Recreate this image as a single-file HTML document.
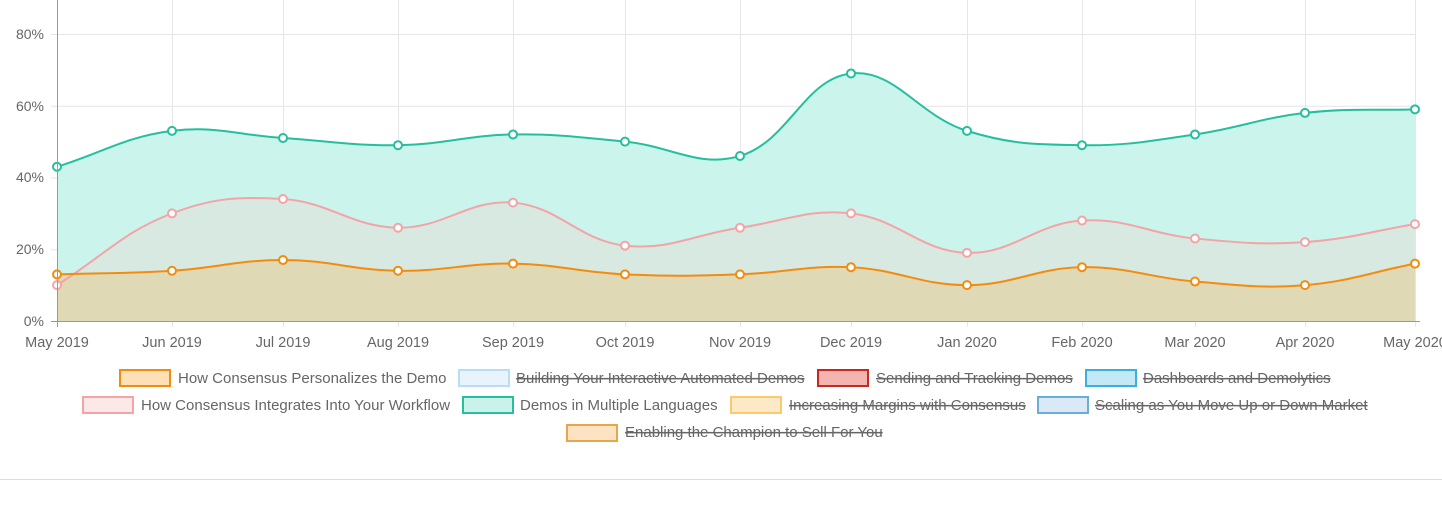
<!DOCTYPE html>
<html><head><meta charset="utf-8"><style>
body{margin:0;background:#fff;width:1442px;height:511px;overflow:hidden;font-family:"Liberation Sans",sans-serif}
svg{position:absolute;left:0;top:0}
</style></head><body>
<svg width="1442" height="511" viewBox="0 0 1442 511" xmlns="http://www.w3.org/2000/svg">
<g id="grid" stroke="#e6e6e6" stroke-width="1"></g>
<g id="areas"></g>
<g id="lines"></g>
<line x1="57.5" y1="0" x2="57.5" y2="327" stroke="#999" stroke-width="1"/>
<line x1="51" y1="321.5" x2="1420" y2="321.5" stroke="#999" stroke-width="1"/>
<g font-size="14" fill="#666" text-anchor="end">
<text x="44" y="39">80%</text><text x="44" y="111">60%</text><text x="44" y="182">40%</text><text x="44" y="254">20%</text><text x="44" y="326">0%</text>
</g>
<g font-size="14.5" fill="#666" text-anchor="middle">
<text x="57" y="347">May 2019</text><text x="172" y="347">Jun 2019</text><text x="283" y="347">Jul 2019</text><text x="398" y="347">Aug 2019</text><text x="513" y="347">Sep 2019</text><text x="625" y="347">Oct 2019</text><text x="740" y="347">Nov 2019</text><text x="851" y="347">Dec 2019</text><text x="967" y="347">Jan 2020</text><text x="1082" y="347">Feb 2020</text><text x="1195" y="347">Mar 2020</text><text x="1305" y="347">Apr 2020</text><text x="1415" y="347">May 2020</text>
</g>
<g font-size="15" fill="#666" stroke-width="2">
<rect x="120" y="370" width="50" height="16" fill="#fde0b5" stroke="#f28c0f"/><text x="178" y="383">How Consensus Personalizes the Demo</text>
<rect x="459" y="370" width="50" height="16" fill="#e8f3fc" stroke="#b9dcf7"/><text x="516" y="383" text-decoration="line-through">Building Your Interactive Automated Demos</text>
<rect x="818" y="370" width="50" height="16" fill="#f4b5b0" stroke="#c8281e"/><text x="876" y="383" text-decoration="line-through">Sending and Tracking Demos</text>
<rect x="1086" y="370" width="50" height="16" fill="#c5e8f6" stroke="#3ab0e2"/><text x="1143" y="383" text-decoration="line-through">Dashboards and Demolytics</text>
<rect x="83" y="397" width="50" height="16" fill="#fde8e8" stroke="#f4a3a6"/><text x="141" y="410">How Consensus Integrates Into Your Workflow</text>
<rect x="463" y="397" width="50" height="16" fill="#c9f3ea" stroke="#26be9e"/><text x="520" y="410">Demos in Multiple Languages</text>
<rect x="731" y="397" width="50" height="16" fill="#fee9c7" stroke="#fcc870"/><text x="789" y="410" text-decoration="line-through">Increasing Margins with Consensus</text>
<rect x="1038" y="397" width="50" height="16" fill="#d9eaf6" stroke="#6aaed6"/><text x="1095" y="410" text-decoration="line-through">Scaling as You Move Up or Down Market</text>
<rect x="567" y="425" width="50" height="16" fill="#fbe3c3" stroke="#e8a64a"/><text x="625" y="437" text-decoration="line-through">Enabling the Champion to Sell For You</text>
</g>
<line x1="0" y1="479.5" x2="1442" y2="479.5" stroke="#ddd"/>
</svg>
<script>
const X=[57,172,283,398,513,625,740,851,967,1082,1195,1305,1415];
const Y=v=>321-v*3.5875;
const S=[
 {d:[43,53,51,49,52,50,46,69,53,49,52,58,59],c:"#26be9e",f:"#cbf5ec"},
 {d:[10,30,34,26,33,21,26,30,19,28,23,22,27],c:"#f4a3a6",f:"#d8e9e2"},
 {d:[13,14,17,14,16,13,13,15,10,15,11,10,16],c:"#f28c0f",f:"#e0d9b6"}];
const ns="http://www.w3.org/2000/svg";
function el(p,t,a){const e=document.createElementNS(ns,t);for(const k in a)e.setAttribute(k,a[k]);document.getElementById(p).appendChild(e);return e;}
X.forEach(x=>el("grid","line",{x1:x+.5,y1:0,x2:x+.5,y2:327}));
[0,20,40,60,80].forEach(v=>el("grid","line",{x1:51,y1:Y(v)+.5,x2:1415,y2:Y(v)+.5}));
function path(d){const P=d.map((v,i)=>[X[i],Y(v)]);const cps=P.map((p,i)=>{const a=P[i-1]||p,b=P[i+1]||p;const d1=Math.hypot(p[0]-a[0],p[1]-a[1]),d2=Math.hypot(b[0]-p[0],b[1]-p[1]);const s=d1+d2||1;const fa=.4*d1/s,fb=.4*d2/s;return[[p[0]-fa*(b[0]-a[0]),p[1]-fa*(b[1]-a[1])],[p[0]+fb*(b[0]-a[0]),p[1]+fb*(b[1]-a[1])]];});
let s="M"+P[0];for(let i=1;i<P.length;i++)s+=" C"+cps[i-1][1]+" "+cps[i][0]+" "+P[i];return s;}
S.forEach(o=>{const p=path(o.d);el("areas","path",{d:p+" L1415,321 L57,321 Z",fill:o.f});el("lines","path",{d:p,fill:"none",stroke:o.c,"stroke-width":2});});
S.forEach(o=>o.d.forEach((v,i)=>el("lines","circle",{cx:X[i],cy:Y(v),r:4,fill:"#fff",stroke:o.c,"stroke-width":2})));
</script>
</body></html>
